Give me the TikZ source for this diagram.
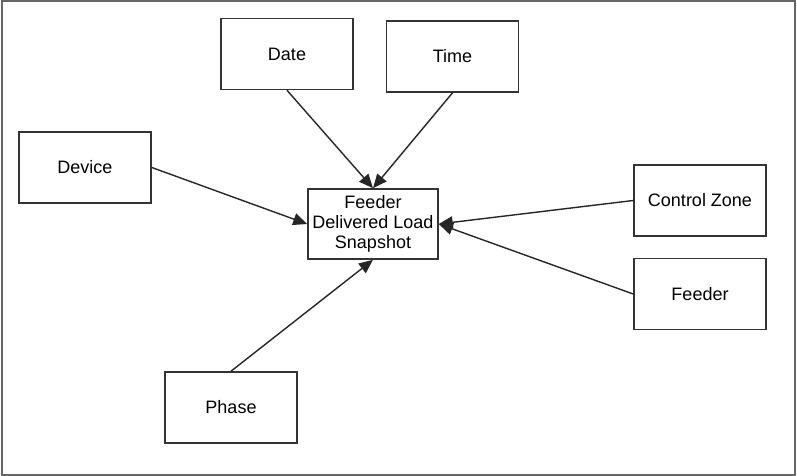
\documentclass[tikz,border=0pt]{standalone}
\usepackage{fontspec}
\setmainfont{Liberation Sans}
\usetikzlibrary{positioning, arrows.meta}

\begin{document}
\begin{tikzpicture}[x=1pt, y=-1pt, on grid, auto,
    entity/.style={draw=black!80, line width=1.6pt, fill=white, minimum width=132pt,
        minimum height=71pt, inner sep=0pt, align=center, font=\fontsize{18}{20}\selectfont},
    link/.style={black!85, line width=1.4pt, -{Triangle[length=14pt, width=12pt]}}]

    % Cadre
    \useasboundingbox (0,0) rectangle (797,476);
    \draw[black!60, line width=2pt] (2,1) rectangle (795,475);

    % Définition des entités
    \node[entity, minimum width=130pt, minimum height=70pt] (snap) at (373,224) {Feeder\\Delivered Load\\Snapshot};
    \node[entity, above left=170pt and 86pt of snap] (date) {Date};
    \node[entity, above right=167.5pt and 79.5pt of snap] (time) {Time};
    \node[entity, above left=56.5pt and 288pt of snap] (device) {Device};
    \node[entity, above right=23.5pt and 327pt of snap] (zone) {Control Zone};
    \node[entity, below right=70pt and 327pt of snap] (feeder) {Feeder};
    \node[entity, below left=183.5pt and 142pt of snap] (phase) {Phase};

    % Définition des liens
    \path[link]
    (date.south) edge (snap.north)
    (time.south) edge (snap.north)
    (device.east) edge (snap.west)
    (zone.west) edge (snap.east)
    (feeder.west) edge (snap.east)
    (phase.north) edge (snap.south);

\end{tikzpicture}
\end{document}
